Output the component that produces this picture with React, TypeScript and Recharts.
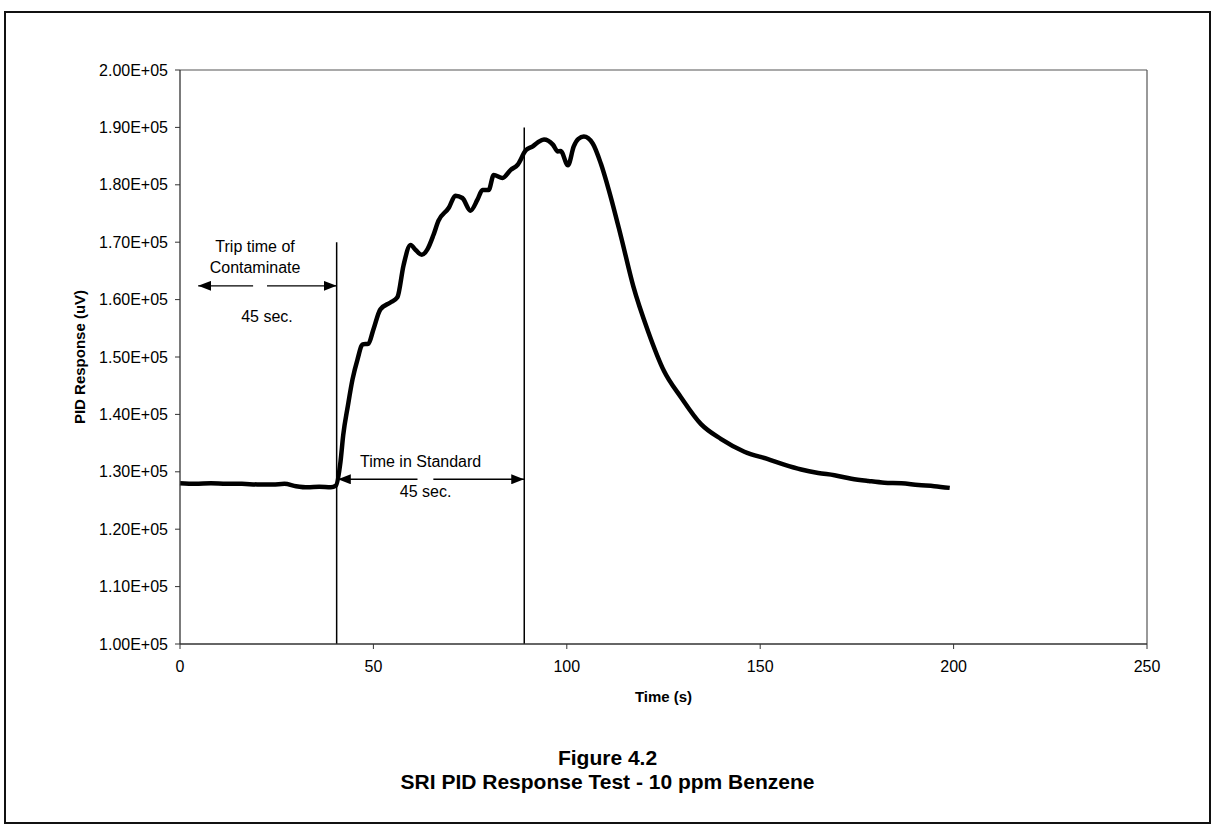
import React from 'react'
import { LineChart, Line, XAxis, YAxis, ReferenceLine, ReferenceDot } from 'recharts'

// PID response over time
const timeS = [
  0, 4, 8, 12, 16, 20, 24, 27, 30, 33, 36, 39, 40.3, 41.5, 42.2, 43.4, 44.6, 45.9, 47.2, 48.7,
  50, 51.8, 54.4, 56.2, 57.8, 59.6, 61, 62.5, 64, 65.5, 66.8, 69.5, 71.2, 73, 75.1, 76.9, 78.2,
  79.8, 81.1, 83.4, 85.5, 87.3, 89.4, 91.2, 92.5, 94.1, 96.4, 97.7, 98.4, 100.3, 101.8, 103,
  104.4, 106.7, 108.8, 110.9, 114, 117.2, 121, 125.1, 129.5, 134.7, 139.9, 145.9, 152, 156,
  160.6, 165, 169.2, 173.6, 178, 182.1, 186.5, 190.9, 195, 199,
]
const pidUv = [
  128000, 127900, 128000, 127900, 127900, 127800, 127800, 127900, 127500, 127300, 127400, 127300,
  127600, 131800, 136400, 141500, 146100, 149600, 152200, 152300,
  154800, 158300, 159500, 160400, 166000, 169500, 168600, 167800, 168800, 171200, 173700, 176000,
  178100, 177700, 175500, 177400, 179100,
  179100, 181700, 181200, 182600, 183500, 186000, 186700, 187400, 187900, 187000, 185800, 185900,
  183400, 186700, 188000,
  188400, 187200, 183700, 179000, 171000, 162300, 154500, 147600, 143000, 138300, 135700, 133500,
  132200, 131300,
  130400, 129800, 129400, 128800, 128400, 128100, 128000, 127700, 127500, 127200,
]

const xTicks = [0, 50, 100, 150, 200, 250]
const yTicks = [100000, 110000, 120000, 130000, 140000, 150000, 160000, 170000, 180000, 190000, 200000]

// vertical markers
const markerTimes = [40.5, 89]
const markerTops = [170000, 190000]

// arrows: start (tail) -> end (head)
const arrowFrom = [18.9, 22.5, 61.4, 65.5]
const arrowTo = [4.7, 40.5, 40.8, 89]
const arrowLevel = [162400, 162400, 128700, 128700]

// text notes
const noteText = ['Trip time of', 'Contaminate', '45 sec.', 'Time in Standard', '45 sec.']
const noteX = [19.4, 19.4, 22.5, 62.2, 63.5]
const noteY = [169300, 165700, 157100, 131900, 126650]

const data = timeS.map((t, i) => ({ t, v: pidUv[i] }))

const FONT = '"Liberation Sans", Arial, Helvetica, sans-serif'
const fmtSci = (v: number) => (v / 100000).toFixed(2) + 'E+05'

const ArrowShape = (p: any) => (
  <line x1={p.x1} y1={p.y1} x2={p.x2} y2={p.y2} stroke="#000" strokeWidth={1.3} markerEnd="url(#arrowHead)" />
)

export default function App() {
  return (
    <div style={{ position: 'absolute', left: 0, top: 0, width: 1213, height: 827, background: '#fff', fontFamily: FONT }}>
      <svg width={0} height={0} style={{ position: 'absolute' }}>
        <defs>
          <marker id="arrowHead" viewBox="0 0 13 10" refX="13" refY="5" markerWidth="13" markerHeight="10"
            markerUnits="userSpaceOnUse" orient="auto">
            <path d="M0,0 L13,5 L0,10 z" fill="#000" />
          </marker>
        </defs>
      </svg>
      <div style={{ position: 'absolute', left: 4, top: 11, width: 1207, height: 813, border: '2px solid #111', boxSizing: 'border-box' }} />
      <div style={{ position: 'absolute', left: 0, top: 0 }}>
        <LineChart width={1213} height={827} data={data} margin={{ top: 70, right: 66, left: 0, bottom: 123 }}>
          <XAxis
            dataKey="t" type="number" domain={[0, 250]} ticks={xTicks}
            tick={{ fontSize: 16, fontFamily: FONT, fill: '#000' }}
            tickLine={{ stroke: '#333' }} axisLine={{ stroke: '#333', strokeWidth: 1.3 }}
            tickSize={5} tickMargin={12} height={60}
            label={{ value: 'Time (s)', position: 'insideBottom', offset: 2, fill: '#000', fontSize: 15, fontWeight: 'bold', fontFamily: FONT }}
          />
          <YAxis
            type="number" domain={[100000, 200000]} ticks={yTicks} tickFormatter={fmtSci}
            tick={{ fontSize: 16, fontFamily: FONT, fill: '#000' }}
            tickLine={{ stroke: '#333' }} axisLine={{ stroke: '#333', strokeWidth: 1.3 }}
            tickSize={5} tickMargin={7} width={180}
            label={{ value: 'PID Response (uV)', angle: -90, position: 'insideLeft', offset: 80, fill: '#000', fontSize: 15, fontWeight: 'bold', fontFamily: FONT, style: { textAnchor: 'middle' } }}
          />
          <ReferenceLine y={200000} stroke="#555" strokeWidth={1.2} />
          <ReferenceLine x={250} stroke="#555" strokeWidth={1.2} />
          {markerTimes.map((x, i) => (
            <ReferenceLine key={'m' + i} segment={[{ x, y: 100000 }, { x, y: markerTops[i] }]} stroke="#000" strokeWidth={1.5} />
          ))}
          {arrowFrom.map((x, i) => (
            <ReferenceLine key={'a' + i} segment={[{ x, y: arrowLevel[i] }, { x: arrowTo[i], y: arrowLevel[i] }]} shape={ArrowShape} />
          ))}
          {noteText.map((s, i) => (
            <ReferenceDot key={'n' + i} x={noteX[i]} y={noteY[i]} r={0} fill="none" stroke="none"
              label={{ value: s, position: 'center', fill: '#000', fontSize: 16, fontFamily: FONT }} />
          ))}
          <Line dataKey="v" type="monotone" stroke="#000" strokeWidth={4.5} dot={false} isAnimationActive={false} />
        </LineChart>
      </div>
      <div style={{ position: 'absolute', left: 4, width: 1207, top: 746, textAlign: 'center', fontWeight: 'bold', fontSize: 21, lineHeight: '24px', color: '#000' }}>
        Figure 4.2<br />SRI PID Response Test - 10 ppm Benzene
      </div>
    </div>
  )
}
